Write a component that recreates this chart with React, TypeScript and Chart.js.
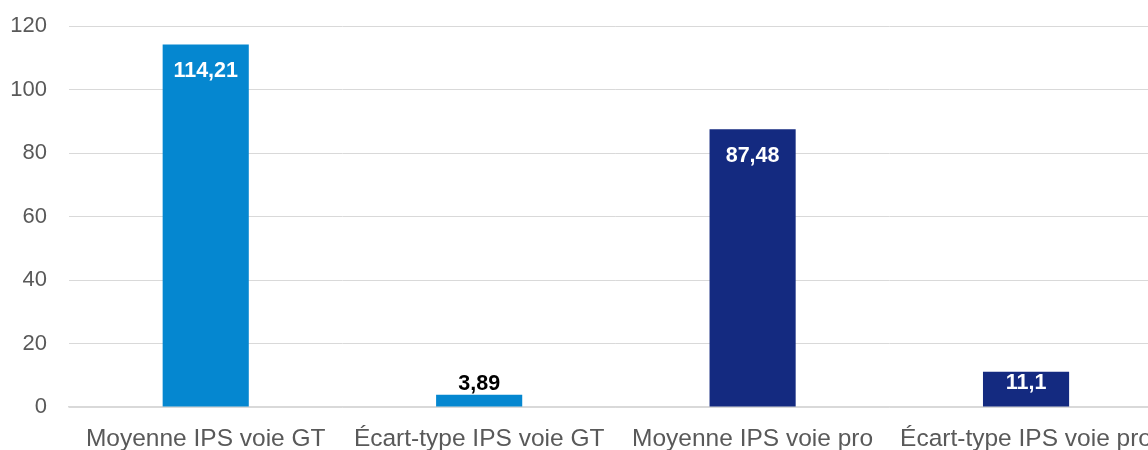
import React, { useEffect, useRef } from "react";
import { Chart, registerables } from "chart.js";

Chart.register(...registerables);

const categories = [
  "Moyenne IPS voie GT",
  "Écart-type IPS voie GT",
  "Moyenne IPS voie pro",
  "Écart-type IPS voie pro",
];
const values = [114.21, 3.89, 87.48, 11.1];
const valueLabels = ["114,21", "3,89", "87,48", "11,1"];
const labelInside = [true, false, true, true];
const barColors = ["#0587D0", "#0587D0", "#142A80", "#142A80"];
const labelColors = ["#FFFFFF", "#000000", "#FFFFFF", "#FFFFFF"];
const yTicks = [0, 20, 40, 60, 80, 100, 120];

const dataLabelPlugin = {
  id: "dataLabels",
  afterDatasetsDraw(chart: any) {
    const ctx = chart.ctx;
    const meta = chart.getDatasetMeta(0);
    ctx.save();
    ctx.font = "bold 21.5px 'Liberation Sans', Arial, sans-serif";
    ctx.textAlign = "center";
    ctx.textBaseline = "middle";
    meta.data.forEach((bar: any, i: number) => {
      const h = bar.base - bar.y;
      let y;
      if (labelInside[i]) {
        y = bar.y + Math.min(27, h * 0.33);
      } else {
        y = bar.y - 11;
      }
      ctx.fillStyle = labelColors[i];
      ctx.fillText(valueLabels[i], bar.x, y);
    });
    ctx.restore();
  },
};

export default function App() {
  const ref = useRef<HTMLCanvasElement | null>(null);
  useEffect(() => {
    if (!ref.current) return;
    const chart = new Chart(ref.current, {
      type: "bar",
      data: {
        labels: categories,
        datasets: [
          {
            data: values,
            backgroundColor: barColors,
            borderWidth: 0,
            categoryPercentage: 1,
            barPercentage: 0.315,
          },
        ],
      },
      options: {
        responsive: false,
        animation: false,
        layout: { padding: { top: 26, left: 0, right: 0, bottom: 0 } },
        plugins: {
          legend: { display: false },
          tooltip: { enabled: false },
        },
        scales: {
          x: {
            grid: { display: false, drawTicks: false },
            border: { display: true, color: "#D9D9D9", width: 1.5 },
            ticks: {
              color: "#595959",
              font: { family: "'Liberation Sans', Arial, sans-serif", size: 24.5 },
              padding: 18,
              maxRotation: 0,
              minRotation: 0,
              autoSkip: false,
            },
            afterFit: (scale: any) => {
              scale.height = 43;
            },
          },
          y: {
            min: 0,
            max: 120,
            afterBuildTicks: (scale: any) => {
              scale.ticks = yTicks.map((v) => ({ value: v }));
            },
            grid: { color: "#D9D9D9", lineWidth: 1, drawTicks: false },
            border: { display: false },
            ticks: {
              color: "#595959",
              font: { family: "'Liberation Sans', Arial, sans-serif", size: 22 },
              padding: 22,
            },
            afterFit: (scale: any) => {
              scale.width = 69;
              scale.paddingTop = 0;
              scale.paddingBottom = 0;
            },
          },
        },
      },
      plugins: [dataLabelPlugin],
    });
    return () => chart.destroy();
  }, []);

  return (
    <div
      style={{
        position: "fixed",
        left: 0,
        top: 0,
        width: "1148px",
        height: "450px",
        overflow: "hidden",
        background: "#FFFFFF",
      }}
    >
      <canvas ref={ref} width={1170} height={450} style={{ display: "block" }} />
    </div>
  );
}
